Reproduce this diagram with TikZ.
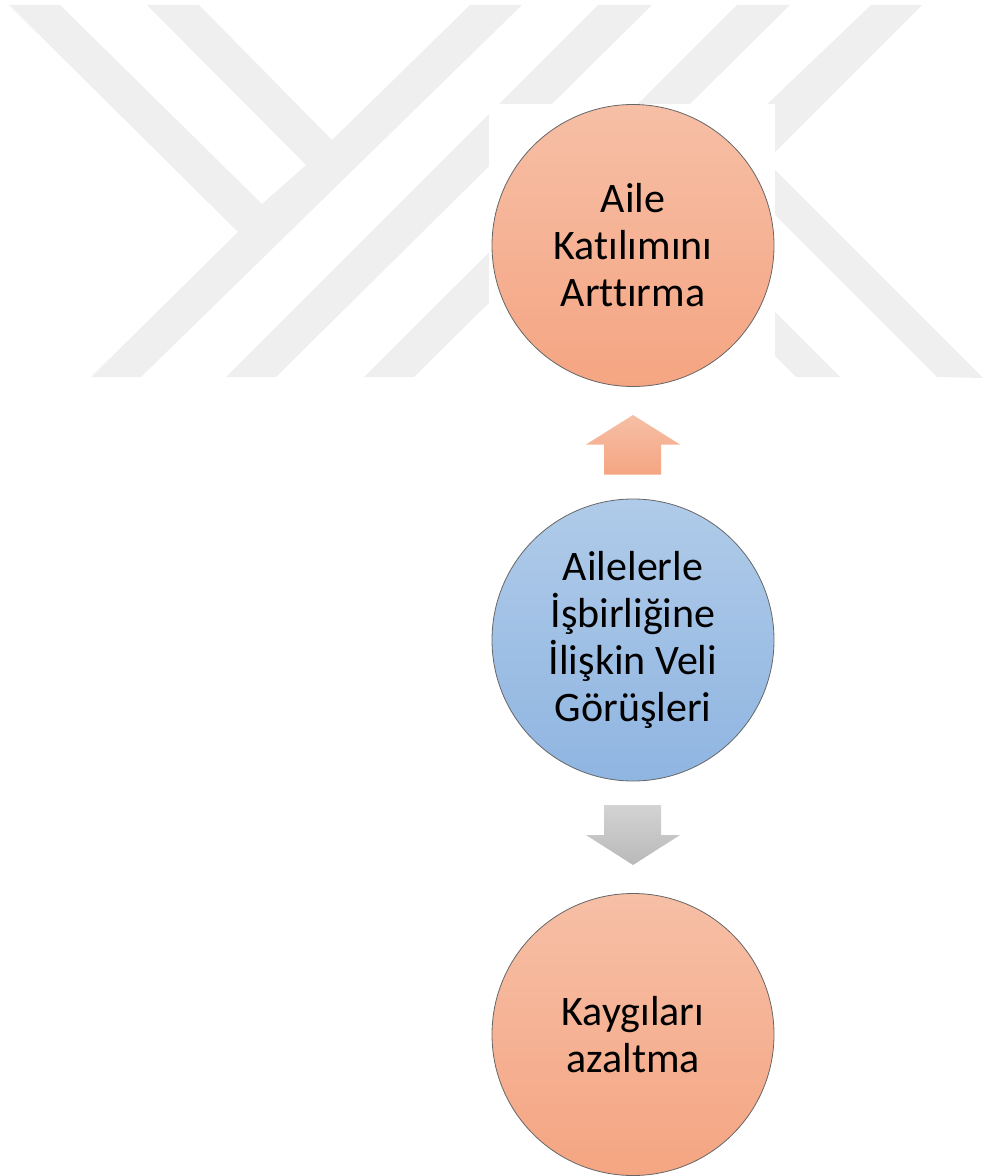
\documentclass[tikz,border=0pt]{standalone}
\usepackage{fontspec}
\setmainfont[Ligatures=NoCommon]{Carlito}
\definecolor{markgrey}{HTML}{EFEFEF}
\definecolor{peachtop}{HTML}{F6BFA6}
\definecolor{peachbot}{HTML}{F5A582}
\definecolor{bluetop}{HTML}{B0CBE9}
\definecolor{bluebot}{HTML}{8FB5E1}
\definecolor{greytop}{HTML}{D3D3D3}
\definecolor{greybot}{HTML}{B9B9B9}
\tikzset{
  theme/.style={circle, draw=black!60, line width=0.6pt, minimum size=211.5pt, inner sep=0pt, align=center, font=\fontsize{31.5}{35.2}\selectfont},
  peach/.style={top color=peachtop, bottom color=peachbot},
  sky/.style={top color=bluetop, bottom color=bluebot},
  ash/.style={top color=greytop, bottom color=greybot}
}
\begin{document}
\begin{tikzpicture}[x=0.75pt,y=-0.75pt]
\useasboundingbox (0,0) rectangle (983,1176);
\fill [markgrey] (9,5) -- (60,5) -- (262,204) -- (306,165) -- (147,5) -- (199,5) -- (332,140) -- (470,5) -- (522,5) -- (141,377) -- (91,377) -- (238,232) -- cycle;
\fill [markgrey] (598,5) -- (652,5) -- (276,377) -- (226,377) -- cycle;
\fill [markgrey] (737,5) -- (790,5) -- (414,377) -- (364,377) -- cycle;
\fill [markgrey] (871,5) -- (922,5) -- (700,227) -- (670,197) -- cycle;
\fill [markgrey] (770,165) -- (983,378) -- (937,377) -- (770,210) -- cycle;
\fill [markgrey] (770,307) -- (840,377) -- (796,377) -- (770,351) -- cycle;
\fill [white] (489,104) rectangle (775,385);
\node [theme, peach] (family) at (633,245.5) {Aile\\Katılımını\\Arttırma};
\node [theme, sky] (views) at (633,640) {Ailelerle\\İşbirliğine\\İlişkin Veli\\Görüşleri};
\node [theme, peach] (anxiety) at (633,1034.5) {Kaygıları\\azaltma};
\path [peach] (633,415) -- (680,444.5) -- (661,444.5) -- (661,474.5) -- (604,474.5) -- (604,444.5) -- (586,444.5) -- cycle;
\path [ash] (604,805) -- (661,805) -- (661,835) -- (680,835) -- (633,865) -- (586,835) -- (604,835) -- cycle;
\end{tikzpicture}
\end{document}
